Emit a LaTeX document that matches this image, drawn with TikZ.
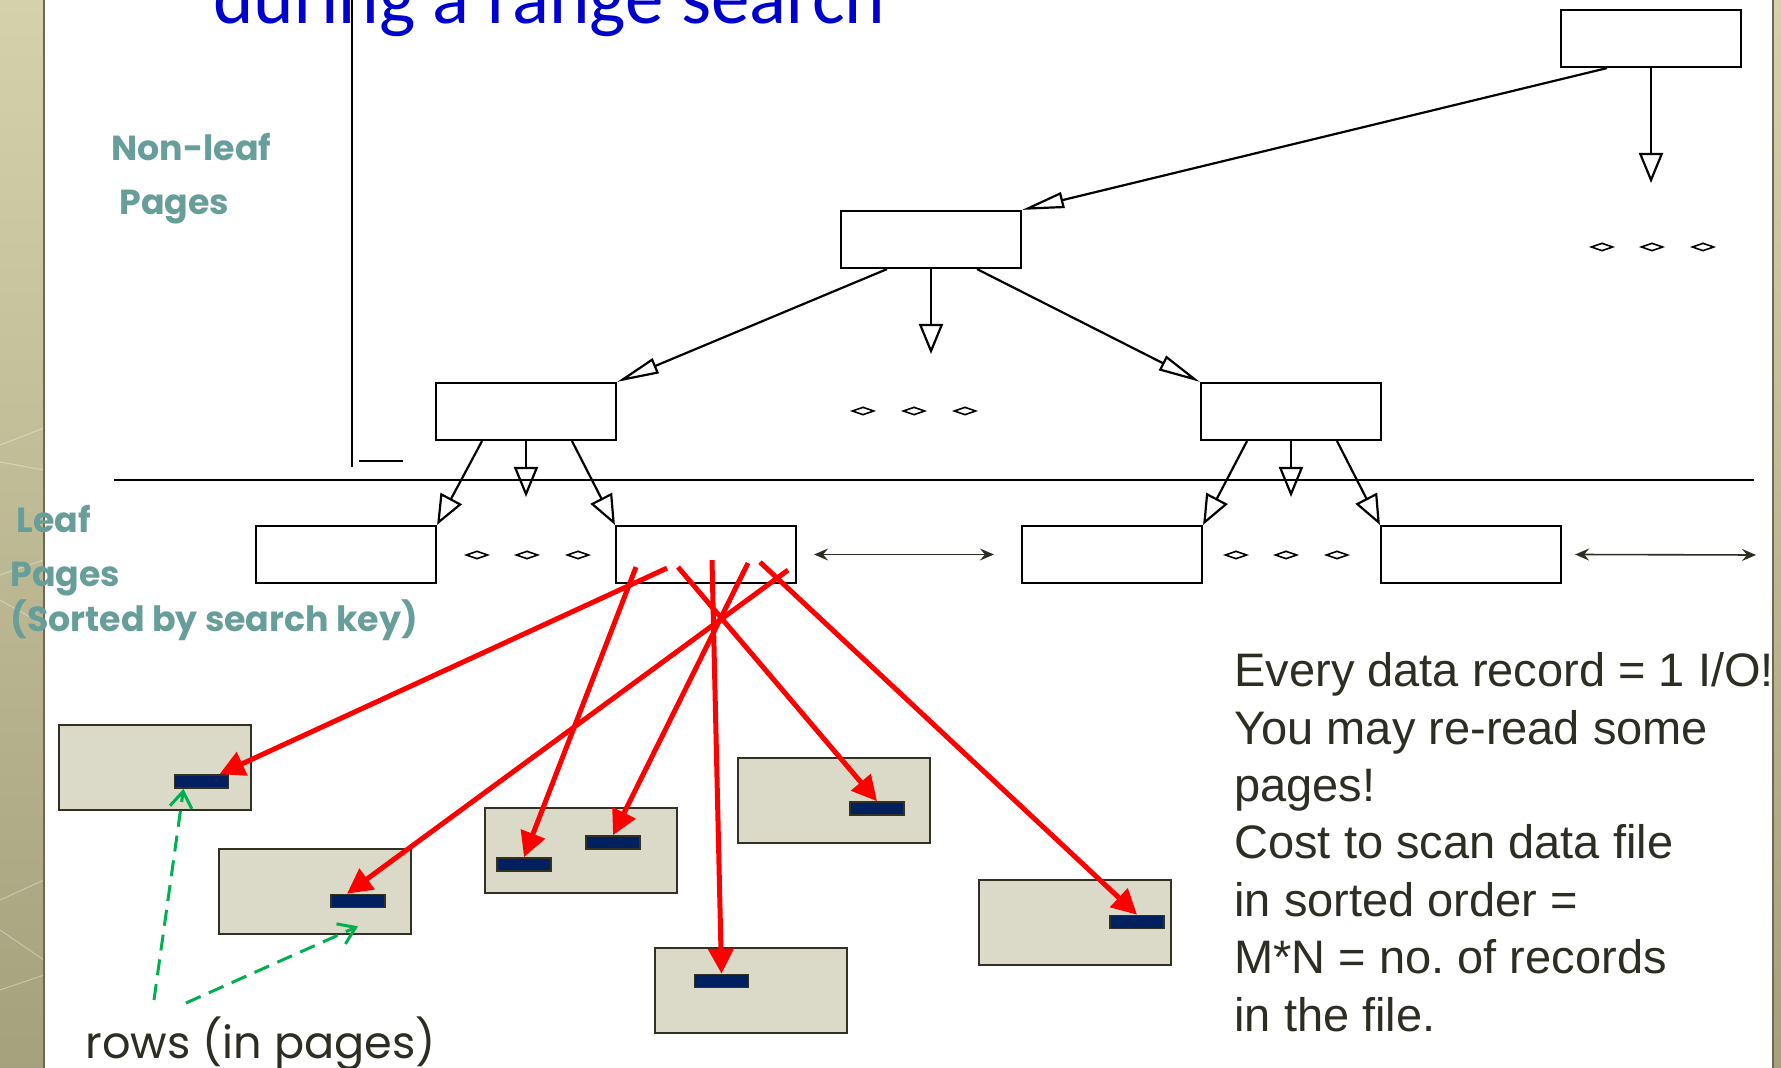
\documentclass[tikz,border=0pt]{standalone}
\usepackage{fontspec}
\usetikzlibrary{arrows.meta,shapes.geometric}
\newfontfamily\titlefont{Carlito}
\newfontfamily\gothicfont{Poppins}
\newfontfamily\arialfont{Liberation Sans}
\definecolor{titleblue}{HTML}{0000CC}
\definecolor{labelteal}{HTML}{689E9A}
\definecolor{sidetop}{HTML}{D5D2AB}
\definecolor{sidebottom}{HTML}{A6A17D}
\definecolor{sideedge}{HTML}{6E6A52}
\definecolor{pagefill}{HTML}{DBD9C7}
\definecolor{pageedge}{HTML}{333024}
\definecolor{rowfill}{HTML}{002060}
\definecolor{inkgray}{HTML}{2E2D24}
\definecolor{rowgreen}{HTML}{00B050}
\begin{document}
\begin{tikzpicture}[x=0.5pt, y=-0.5pt,
    page/.style={rectangle, draw, line width=1.1pt, fill=white, minimum width=90pt, minimum height=28.5pt, inner sep=0pt},
    gap/.style={diamond, draw, line width=0.8pt, fill=white, minimum width=11pt, minimum height=4pt, inner sep=0pt},
    down/.style={-{Triangle[open, length=15pt, width=12pt]}, line width=1.1pt},
    slant/.style={-{Triangle[open, length=21pt, width=8pt]}, line width=1.1pt},
    link/.style={{Stealth[length=7pt, width=6pt, inset=2.5pt]}-{Stealth[length=7pt, width=6pt, inset=2.5pt]}, line width=0.8pt, draw=inkgray},
    data/.style={rectangle, draw=pageedge, fill=pagefill, line width=1pt, minimum width=96pt, minimum height=42.5pt, inner sep=0pt},
    rec/.style={rectangle, draw=pageedge, fill=rowfill, line width=0.8pt, minimum width=27pt, minimum height=6.5pt, inner sep=0pt},
    fetch/.style={-{Triangle[length=12.5pt, width=12.5pt]}, line width=2.5pt, red},
    hint/.style={-{Straight Barb[length=8pt, width=11pt]}, line width=1.5pt, rowgreen, dash pattern=on 8pt off 4.5pt},
    side/.style={top color=sidetop, bottom color=sidebottom},
    teal/.style={inner sep=0pt, text=labelteal, font=\gothicfont\bfseries\fontsize{17.4pt}{27pt}\selectfont}
]
\useasboundingbox (0,0) rectangle (1781,1068);
\shade[side] (0,0) rectangle (44,1068);
\shade[side] (1773,0) rectangle (1781,1068);
\draw[white, opacity=0.35, line width=0.5pt] (0,445) -- (44,428) (0,462) -- (44,470) (0,575) -- (44,560) (0,600) -- (44,625) (0,900) -- (44,880) (0,930) -- (44,960) (0,990) -- (44,975);
\draw[sideedge, line width=1pt] (44,0) -- (44,1068);
\draw[sideedge, line width=1pt] (1773,0) -- (1773,1068);

\node[anchor=base west, inner sep=0pt, text=titleblue, font=\titlefont\fontsize{38.5pt}{46pt}\selectfont] (title) at (213,24) {during a range search};

\draw[line width=1.1pt] (352,-10) -- (352,467);
\draw[line width=1.1pt] (359,461) -- (403,461);
\draw[line width=1.1pt] (114,480) -- (1754,480);

\node[page] (root) at (1651,38.5) {};
\node[page] (mid) at (931,239.5) {};
\node[page] (innL) at (526,411.5) {};
\node[page] (innR) at (1291,411.5) {};
\node[page] (leafA) at (346,554.5) {};
\node[page] (leafB) at (706,554.5) {};
\node[page] (leafC) at (1112,554.5) {};
\node[page] (leafD) at (1471,554.5) {};

\coordinate (rootgap) at (1651,183);
\coordinate (midgap) at (931,354);
\coordinate (innLgap) at (526,497);
\coordinate (innRgap) at (1291,497);
\coordinate (tailend) at (1756,555);

\draw[slant] ([xshift=-22pt]root.south) -- (mid.north east);
\draw[down] (root.south) -- (rootgap);
\draw[slant] ([xshift=-22pt]mid.south) -- (innL.north east);
\draw[down] (mid.south) -- (midgap);
\draw[slant] ([xshift=23pt]mid.south) -- (innR.north west);
\draw[down] ([xshift=-22pt]innL.south) -- (leafA.north east);
\draw[down] (innL.south) -- (innLgap);
\draw[down] ([xshift=23pt]innL.south) -- (leafB.north west);
\draw[down] ([xshift=-22pt]innR.south) -- (leafC.north east);
\draw[down] (innR.south) -- (innRgap);
\draw[down] ([xshift=23pt]innR.south) -- (leafD.north west);

\foreach \x/\y [count=\i] in {1602/247, 1652/247, 1703/247, 863/411, 914/411, 965/411, 477/555, 527/555, 578/555, 1236/555, 1286/555, 1337/555}
    \node[gap] (dots\i) at (\x,\y) {};

\draw[link] ([xshift=8.5pt]leafB.east) -- ([xshift=-13.5pt]leafC.west);
\draw[link] ([xshift=6.5pt]leafD.east) -- (tailend);

\node[teal, anchor=base west, align=left] (nonleaf) at (111,215) {Non-leaf\\\hspace{4pt}Pages};
\node[teal, anchor=base west, align=left] (leaf) at (10,632) {\hspace{3pt}Leaf\\Pages\\[-4.5pt](Sorted by search key)};

\node[data] (pA) at (154.5,767) {};
\node[data] (pB) at (314.5,891) {};
\node[data] (pC) at (580.5,850) {};
\node[data] (pD) at (834,800) {};
\node[data] (pE) at (751,990) {};
\node[data] (pF) at (1075,922.5) {};

\node[rec] (rA) at (201.5,781.5) {};
\node[rec] (rB) at (358,901) {};
\node[rec] (rC1) at (524,864.5) {};
\node[rec] (rC2) at (613,842.5) {};
\node[rec] (rD) at (877,808.5) {};
\node[rec] (rE) at (721.5,981) {};
\node[rec] (rF) at (1137,922) {};

\draw[fetch] ([xshift=-19.5pt,yshift=8pt]leafB.south) -- ([xshift=9pt]rA.north);
\draw[fetch] ([xshift=-35pt,yshift=8.5pt]leafB.south) -- (rC1.north);
\draw[fetch] ([xshift=41pt,yshift=7pt]leafB.south) -- ([xshift=-5.5pt]rB.north);
\draw[fetch] ([xshift=21pt,yshift=10.5pt]leafB.south) -- (rC2.north);
\draw[fetch] ([xshift=3pt,yshift=12pt]leafB.south) -- (rE.north);
\draw[fetch] ([xshift=-14pt,yshift=8.5pt]leafB.south) -- (rD.north);
\draw[fetch] ([xshift=27pt,yshift=11pt]leafB.south) -- (rF.north);

\node[anchor=base west, inner sep=0pt, text=inkgray, font=\gothicfont\fontsize{22.3pt}{28pt}\selectfont] (rows) at (85,1058) {rows (in pages)};
\coordinate (hintA) at (154,1000);
\coordinate (hintB) at (186,1003);
\draw[hint] (hintA) -- ([xshift=-9pt]rA.south);
\draw[hint] (hintB) -- ([yshift=-9pt]rB.south);

\node[anchor=base west, align=left, inner sep=0pt, text=inkgray, font=\arialfont\fontsize{23.5pt}{28.7pt}\selectfont] (cost) at (1234,1031) {Every data record = 1 I/O!\\You may re-read some\\pages!\\Cost to scan data file\\in sorted order =\\M*N = no.\ of records\\in the file.};
\end{tikzpicture}
\end{document}
